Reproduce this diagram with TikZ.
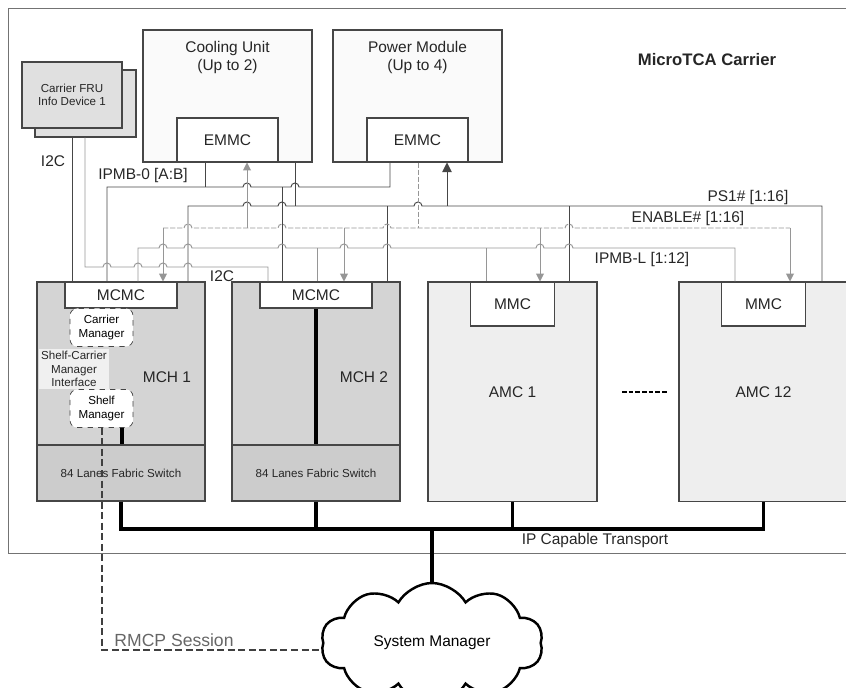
\documentclass[tikz,border=0pt]{standalone}
\usepackage{fontspec}
\setmainfont{Liberation Sans}
\usetikzlibrary{arrows.meta,positioning,shapes.symbols}
\definecolor{linedark}{RGB}{70,70,70}
\definecolor{linegray}{RGB}{150,150,150}
\definecolor{mchfill}{RGB}{212,212,212}
\definecolor{amcfill}{RGB}{238,238,238}
\definecolor{frufill}{RGB}{224,224,224}
\newcommand{\fmain}{\fontsize{8.8}{10.6}\selectfont}
\newcommand{\fsmall}{\fontsize{6.6}{7.7}\selectfont}

\begin{document}
\begin{tikzpicture}[
  x=0.02cm, y=-0.02cm,
  box/.style={rectangle, draw=linedark, line width=0.6pt, inner sep=0pt, align=center, font=\fmain, text=black!85},
  unit/.style={box, fill=black!2, minimum width=3.38cm, minimum height=2.64cm},
  ctrl/.style={box, fill=white, minimum width=2.02cm, minimum height=0.88cm},
  slot/.style={box, minimum width=3.36cm, minimum height=4.38cm},
  fabric/.style={box, fill=mchfill!96!black, minimum width=3.36cm, minimum height=1.12cm, font=\fsmall},
  mgr/.style={rectangle, rounded corners=4pt, draw=linedark, dashed, fill=white, inner sep=0pt, minimum width=1.26cm, minimum height=0.76cm, align=center, font=\fsmall},
  txt/.style={font=\fmain, text=black!85, inner sep=0pt},
  wire/.style={draw=linedark, line width=0.55pt},
  gwire/.style={draw=linegray, line width=0.55pt},
  enwire/.style={draw=linegray, line width=0.55pt, dash pattern=on 3pt off 1pt},
  garr/.style={gwire, -{Triangle[length=4.5pt, width=4.5pt]}},
  barr/.style={wire, -{Triangle[length=5.5pt, width=5.5pt]}},
  bus/.style={draw=black, line width=2pt},
  rmcp/.style={draw=black!75, line width=1.5pt, dash pattern=on 4pt off 2pt}
]
\useasboundingbox (0,0) rectangle (846,688);
\clip (0,0) rectangle (846,688);

% --- carrier frame ---
\node[draw=black!55, line width=0.8pt, minimum width=16.88cm, minimum height=10.9cm, anchor=north west] (carrier) at (8,8) {};
\node[txt, font=\fontsize{9.5}{11}\selectfont\bfseries] (carrierlbl) at (707,60) {MicroTCA Carrier};

% --- FRU devices ---
\node[box, fill=frufill, minimum width=2.02cm, minimum height=1.34cm] (fru2) at (85.5,103.5) {};
\node[box, fill=frufill, minimum width=2cm, minimum height=1.32cm, font=\fsmall] (fru1) at (72,95) {Carrier FRU\\Info Device 1};

% --- cooling unit and power module ---
\node[unit, label={[txt, align=center, anchor=north, yshift=-0.22cm]north:{Cooling Unit\\(Up to 2)}}] (cool) at (227.5,96) {};
\node[ctrl, anchor=south] (emmc1) at (cool.south) {EMMC};
\node[unit, label={[txt, align=center, anchor=north, yshift=-0.22cm]north:{Power Module\\(Up to 4)}}] (power) at (417.5,96) {};
\node[ctrl, anchor=south] (emmc2) at (power.south) {EMMC};

% --- MCH 1 ---
\node[slot, fill=mchfill] (mch1) at (121,391.5) {};
\node[fabric, anchor=south] (fabric1) at (mch1.south) {84 Lanes Fabric Switch};
\node[box, fill=white, anchor=north, minimum width=2.24cm, minimum height=0.52cm] (mcmc1) at (mch1.north) {MCMC};
\node[mgr] (carmgr) at (101.5,327.5) {Carrier\\Manager};
\node[txt, font=\fsmall, align=center, fill=black!6, inner sep=1pt] (scmi) at (74,369) {Shelf-Carrier\\Manager\\Interface};
\node[mgr] (shelfmgr) at (101.5,408.5) {Shelf\\Manager};
\node[txt] (mch1lbl) at (167,377) {MCH 1};
\draw[line width=2pt] (shelfmgr.south -| 122,0) -- (fabric1.north -| 122,0);

% --- MCH 2 ---
\node[slot, fill=mchfill] (mch2) at (316,391.5) {};
\node[fabric, anchor=south] (fabric2) at (mch2.south) {84 Lanes Fabric Switch};
\node[box, fill=white, anchor=north, minimum width=2.24cm, minimum height=0.52cm] (mcmc2) at (mch2.north) {MCMC};
\node[txt] (mch2lbl) at (364,377) {MCH 2};
\draw[line width=2pt] (mcmc2.south) -- (fabric2.north);

% --- AMCs ---
\node[slot, fill=amcfill, minimum width=3.38cm, minimum height=4.4cm] (amc1) at (512.5,392) {AMC 1};
\node[box, fill=white, anchor=north, minimum width=1.68cm, minimum height=0.88cm] (mmc1) at (amc1.north) {MMC};
\node[slot, fill=amcfill, minimum width=3.38cm, minimum height=4.4cm] (amc12) at (763.5,392) {AMC 12};
\node[box, fill=white, anchor=north, minimum width=1.68cm, minimum height=0.88cm] (mmc12) at (amc12.north) {MMC};
\draw[line width=1.6pt, dash pattern=on 2.6pt off 1.2pt] (622,392) -- (668,392);

% --- system manager ---
\node[cloud, cloud ignores aspect, draw=black, line width=1.4pt, fill=white, cloud puffs=10, cloud puff arc=120, minimum width=4.44cm, minimum height=2.4cm, font=\fmain] (sysmgr) at (432,643) {System Manager};

% --- wire labels ---
\node[txt] (i2clbl1) at (53,161) {I2C};
\node[txt] (i2clbl2) at (222,276) {I2C};
\node[txt] (ipmb0lbl) at (143,176) {IPMB-0 [A:B]};
\node[txt] (ps1lbl) at (748,198) {PS1\# [1:16]};
\node[txt] (enablelbl) at (688,219) {ENABLE\# [1:16]};
\node[txt] (ipmbllbl) at (642,260) {IPMB-L [1:12]};

% IPMB-0
\draw[wire] (mcmc1.north -| 107,0) -- (107,187)
  foreach \h in {247,295} { -- (\h-4,187) arc[start angle=180, end angle=0, radius=0.08cm] }
  -- (390,187) -- (emmc2.south -| 390,0);
\draw[wire] (emmc1.south -| 205,0) -- (205,187);
\draw[wire] (282,187) -- (mcmc2.north -| 282,0);

% PS1#
\draw[wire] (mch1.north -| 188,0) -- (188,206)
  foreach \h in {247,282,418} { -- (\h-4,206) arc[start angle=180, end angle=0, radius=0.08cm] }
  -- (822,206) -- (amc12.north -| 822,0);
\draw[wire] (cool.south -| 295,0) -- (295,206);
\draw[wire] (387,206) -- (mch2.north -| 387,0);
\draw[barr] (447,206) -- (emmc2.south -| 447,0);
\draw[wire] (569,206) -- (amc1.north -| 569,0);

% ENABLE#
\draw[enwire] (emmc2.south -| 418,0) -- (418,228);
\draw[enwire] (163,228)
  foreach \h in {188,282,387,569} { -- (\h-4,228) arc[start angle=180, end angle=0, radius=0.08cm] }
  -- (790,228);
\draw[garr] (163,228) -- (mcmc1.north -| 163,0);
\draw[garr] (247,228) -- (emmc1.south -| 247,0);
\draw[garr] (344,228) -- (mcmc2.north -| 344,0);
\draw[garr] (540,228) -- (mmc1.north -| 540,0);
\draw[garr] (790,228) -- (mmc12.north -| 790,0);

% IPMB-L
\draw[gwire] (mcmc1.north -| 138,0) -- (138,248)
  foreach \h in {163,188,282,344,387,540,569} { -- (\h-4,248) arc[start angle=180, end angle=0, radius=0.08cm] }
  -- (735,248) -- (mmc12.north -| 735,0);
\draw[gwire] (317,248) -- (mcmc2.north -| 317,0);
\draw[gwire] (486,248) -- (mmc1.north -| 486,0);

% I2C
\draw[wire] (fru2.south -| 72,0) -- (mcmc1.north -| 72,0);
\draw[gwire] (fru2.south -| 85,0) -- (85,267)
  foreach \h in {107,138,163,188} { -- (\h-4,267) arc[start angle=180, end angle=0, radius=0.08cm] }
  -- (268,267) -- (mcmc2.north -| 268,0);

% IP transport
\coordinate (bus) at (432,529);
\draw[bus] (fabric1.south) |- (bus) -| (amc12.south);
\draw[bus] (fabric2.south) -- (fabric2.south |- bus);
\draw[bus] (amc1.south) -- (amc1.south |- bus);
\draw[bus] (bus) -- (sysmgr.north);
\node[txt] (iplbl) at (595,541) {IP Capable Transport};

% RMCP
\draw[rmcp] (shelfmgr.south -| 102,0) -- (102,650) -- (sysmgr.west |- 0,650);
\node[txt, font=\fontsize{10}{12}\selectfont, text=black!60] (rmcplbl) at (174,640) {RMCP Session};

\end{tikzpicture}
\end{document}
